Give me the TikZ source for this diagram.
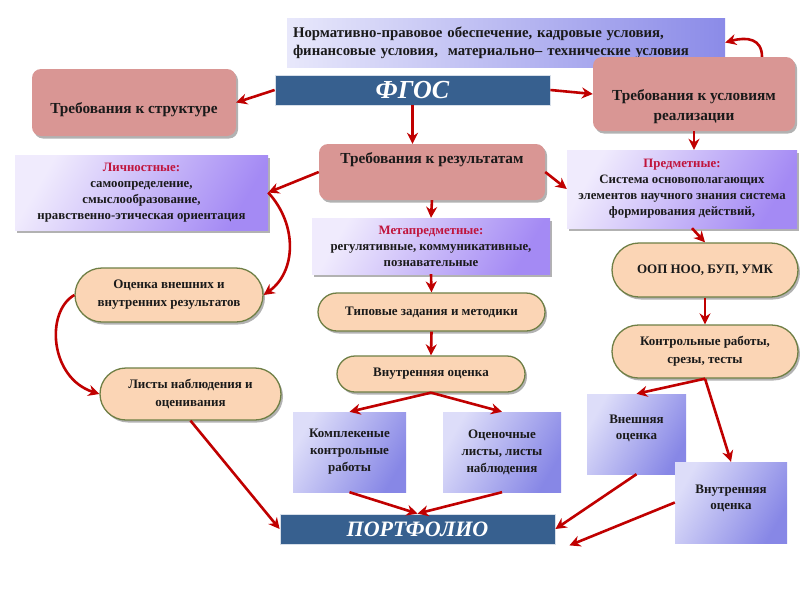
\documentclass[tikz,border=0pt]{standalone}
\usepackage{fontspec}
\setmainfont{Liberation Serif}
\usetikzlibrary{arrows.meta,shadows,shapes.misc}
\definecolor{arrred}{HTML}{C00000}
\definecolor{pinkf}{HTML}{D99694}
\definecolor{barblue}{HTML}{37608F}
\definecolor{lavL}{HTML}{F0EBFD}
\definecolor{lavR}{HTML}{A48AF4}
\definecolor{bluL}{HTML}{DDDDF9}
\definecolor{bluR}{HTML}{8787E6}
\definecolor{normL}{HTML}{E8E8FB}
\definecolor{normR}{HTML}{8B8BE8}
\definecolor{peach}{HTML}{FBD5B5}
\definecolor{olive}{HTML}{6F7F45}
\definecolor{titred}{HTML}{C0143C}
\definecolor{txt}{HTML}{1A1A1A}
\tikzset{
  arr/.style={draw=arrred, line width=2.6pt, -{Stealth[length=11pt,width=11pt]}},
  shad/.style={drop shadow={shadow xshift=2pt, shadow yshift=-2.5pt, opacity=0.3, fill=black}},
  pinkbox/.style={fill=pinkf, rounded corners=9pt, inner sep=0pt, shad},
  lavbox/.style={top color=lavL, bottom color=lavR, shading angle=60, inner sep=0pt, shad, align=center,
     text=txt, font=\fontsize{12.8}{16}\selectfont\bfseries},
  blubox/.style={top color=bluL, bottom color=bluR, shading angle=60, inner sep=0pt, align=center,
     text=txt, font=\fontsize{13}{17}\selectfont\bfseries},
  stad/.style={rounded rectangle, fill=peach, draw=olive, line width=1.3pt, inner sep=0pt, align=center,
     text=txt, font=\fontsize{13}{18}\selectfont\bfseries, shad},
  bar/.style={fill=barblue, draw=white!80!barblue, line width=0.8pt, inner sep=0pt, text=white,
     font=\fontsize{26}{26}\selectfont\bfseries\itshape},
  ptxt/.style={inner sep=0pt, align=center, text=txt, font=\fontsize{15.3}{20}\selectfont\bfseries},
  btxt/.style={inner sep=0pt, align=center, text=txt, font=\fontsize{13}{16}\selectfont\bfseries}
}
\begin{document}
\begin{tikzpicture}[x=1pt,y=-1pt]
\useasboundingbox (0,0) rectangle (800,600);
\fill[white] (0,0) rectangle (800,600);

% top box
\node[left color=normL, right color=normR, minimum width=438pt, minimum height=49pt,
  text width=426pt, inner xsep=6pt, inner ysep=0pt, align=left, text=txt,
  font=\fontsize{14.8}{18}\selectfont\bfseries] (norm) at (506,42.5)
  {Нормативно-правовое обеспечение, кадровые условия,\\финансовые условия,\ \ материально– технические условия};

\node[bar, minimum width=275pt, minimum height=30pt] (fgos) at (412.5,90) {ФГОС};

\node[pinkbox, minimum width=204pt, minimum height=67pt] (struct) at (134,102.5) {};
\node[ptxt] (structT) at (134,110) {Требования к структуре};

\node[pinkbox, minimum width=202pt, minimum height=74pt] (uslov) at (694,94) {};
\node[ptxt] (uslovT) at (694,107) {Требования к условиям\\реализации};

\node[pinkbox, minimum width=226pt, minimum height=56pt] (results) at (432,172) {};
\node[ptxt] (resultsT) at (432,160) {Требования к результатам};

\node[lavbox, minimum width=253pt, minimum height=75pt] (lich) at (141.5,192.5)
  {{\color{titred}Личностные:}\\самоопределение,\\смыслообразование,\\нравственно-этическая ориентация};

\node[lavbox, minimum width=230pt, minimum height=78pt] (pred) at (682,189)
  {{\color{titred}Предметные:}\\Система основополагающих\\элементов научного знания система\\формирования действий,};

\node[lavbox, minimum width=238pt, minimum height=56pt] (meta) at (431,246)
  {{\color{titred}Метапредметные:}\\регулятивные, коммуникативные,\\познавательные};

\node[stad, minimum width=227pt, minimum height=38pt] (tip) at (431.5,312) {Типовые задания и методики};
\node[stad, minimum width=188pt, minimum height=36pt] (vnutr) at (431,374) {Внутренняя оценка};

\node[blubox, minimum width=113pt, minimum height=80pt] (kompl) at (349.5,452) {Комплекеные\\контрольные\\работы};
\node[blubox, minimum width=118pt, minimum height=80pt] (ocen) at (502,452) {Оценочные\\листы, листы\\наблюдения};

\node[bar, minimum width=275pt, minimum height=30pt, font=\fontsize{22}{22}\selectfont\bfseries\itshape] (portf) at (417.5,529) {ПОРТФОЛИО};

\node[stad, minimum width=186pt, minimum height=54pt] (oop) at (705,270) {ООП НОО, БУП, УМК};
\node[stad, minimum width=186pt, minimum height=53pt] (kontr) at (705,351.5) {Контрольные работы,\\срезы, тесты};

\node[blubox, minimum width=99pt, minimum height=80pt] (vnesh) at (636.5,434) {};
\node[btxt] (vneshT) at (636.5,428) {Внешняя\\оценка};
\node[blubox, minimum width=112pt, minimum height=81pt] (vnutrB) at (731,502.5) {};
\node[btxt] (vnutrBT) at (731,498.5) {Внутренняя\\оценка};

\node[stad, minimum width=188pt, minimum height=54pt] (ocenka) at (169,295) {Оценка внешних и\\внутренних результатов};
\node[stad, minimum width=181pt, minimum height=52pt] (listy) at (190.5,394) {Листы наблюдения и\\оценивания};

\coordinate (pend) at ([xshift=14pt,yshift=-1pt]portf.south east);
\coordinate (uslovTop) at ([xshift=68pt]uslov.north);

% arrows
\draw[arr] (fgos.west) -- (struct.east);
\draw[arr] (fgos.east) -- (uslov.west);
\draw[arr] (fgos.south) -- (fgos.south |- results.north);
\draw[arr] (uslovTop) .. controls +(0,-18) and +(22,-6) .. (norm.east);
\draw[arr] (results.west) -- (lich.east);
\draw[arr] (lich.east) .. controls (298,225) and (296,272) .. (ocenka.east);
\draw[arr] (results.south) -- (meta.north);
\draw[arr] (results.east) -- (pred.west);
\draw[arr] (uslov.south) -- (uslov.south |- pred.north);
\draw[arr] ([xshift=10pt]pred.south) -- (oop.north);
\draw[arr] (meta.south) -- (tip.north);
\draw[arr] (tip.south) -- (vnutr.north);
\draw[arr] (vnutr.south) -- (kompl.north);
\draw[arr] (vnutr.south) -- (ocen.north);
\draw[arr] (kompl.south) -- (portf.north);
\draw[arr] (ocen.south) -- (portf.north);
\draw[arr] (oop.south) -- (kontr.north);
\draw[arr] (kontr.south) -- (vnesh.north);
\draw[arr] (kontr.south) -- (vnutrB.north);
\draw[arr] (vnesh.south) -- (portf.east);
\draw[arr] (vnutrB.west) -- (pend);
\draw[arr] (ocenka.west) .. controls (45,312) and (50,378) .. (listy.west);
\draw[arr] (listy.south) -- (portf.west);
\end{tikzpicture}
\end{document}
